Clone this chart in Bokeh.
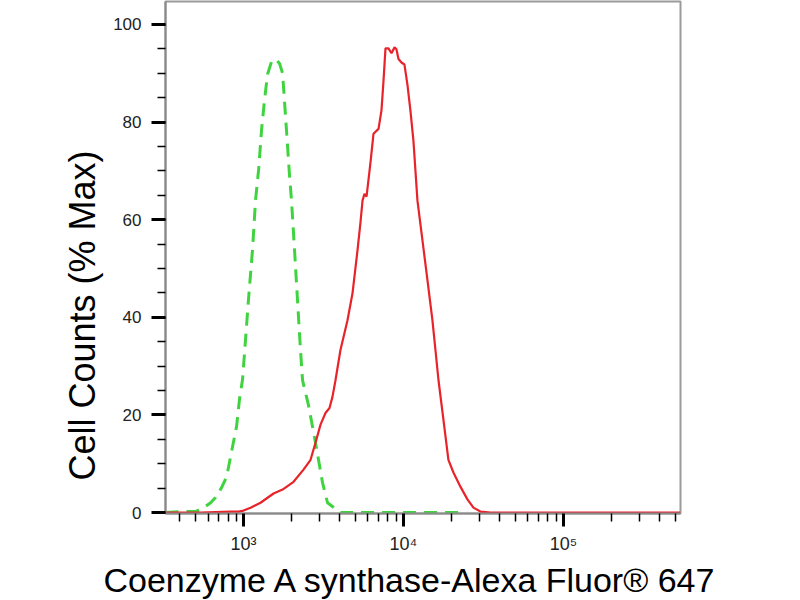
from bokeh.plotting import figure
from bokeh.models import Range1d, FixedTicker, SingleIntervalTicker, Title
from bokeh.embed import file_html
from bokeh.resources import INLINE

# ---- data (fluorescence intensity, % of max) ----
control_x = [325, 404, 501, 562, 622, 668, 729, 783, 841, 904, 944, 986, 1029, 1074,
             1138, 1189, 1242, 1296, 1352, 1413, 1496, 1585, 1679, 1754, 1803, 1884,
             1939, 1995, 2084, 2175, 2270, 2338, 2547, 2818, 3119, 3350, 4036, 5000,
             10000, 22000]
control_y = [0, 0.2, 0.2, 1.0, 2.0, 3.1, 5.1, 7.3, 12.4, 17.6, 23.3, 27.3, 35.5, 43.7,
             53.9, 64.1, 70.2, 78.4, 84.5, 89.8, 92.4, 92.9, 92.0, 90.0, 84.3, 75.1,
             69.0, 63.9, 53.7, 43.5, 33.3, 27.1, 22.0, 14.3, 6.1, 2.0, 0, 0,
             0, 0]

sample_x = [325, 538, 829, 931, 1000, 1106, 1277, 1540, 1754, 2054, 2371, 2624, 2818,
            3029, 3253, 3447, 3597, 3758, 4036, 4467, 4800, 5158, 5383, 5546, 5702,
            5875, 6223, 6494, 6982, 7286, 7499, 7719, 8054, 8414, 8790, 9036, 9311,
            9716, 10139, 10593, 11066, 11548, 12232, 13152, 14125, 15171, 15849,
            16558, 17783, 19099, 20535, 22699, 25119, 27384, 30269, 34995, 53830,
            538000]
sample_y = [0, 0, 0.2, 0.2, 0.4, 1.0, 2.0, 3.9, 4.7, 6.3, 8.8, 10.8, 14.3,
            18.0, 20.4, 21.4, 23.7, 27.1, 33.3, 39.4, 44.9, 53.7, 59.4, 63.9, 65.3,
            64.7, 71.8, 77.6, 78.6, 82.4, 88.4, 95.1, 95.1, 94.1, 95.3, 94.9, 92.9,
            92.2, 91.8, 87.6, 82.2, 76.1, 63.9, 55.7, 47.6, 39.4, 33.3,
            27.1, 19.0, 10.8, 8.2, 5.3, 2.7, 1.0, 0.2, 0, 0,
            0]

x_major = [1000, 10000, 100000]
x_minor = [400, 500, 600, 700, 800, 900,
           2000, 3000, 4000, 5000, 6000, 7000, 8000, 9000,
           20000, 30000, 40000, 50000, 60000, 70000, 80000, 90000,
           200000, 300000, 400000, 500000]
x_tick_labels = {1000: "10\u00b3", 10000: "10\u2074", 100000: "10\u2075"}

x_title = "Coenzyme A synthase-Alexa Fluor\u00ae 647"
y_title = "Cell Counts (% Max)"

FONT = "Liberation Sans"

p = figure(width=800, height=600, x_axis_type="log",
           x_range=Range1d(325, 540000), y_range=Range1d(-0.2, 104.7),
           output_backend="svg", toolbar_location=None,
           min_border_left=165, min_border_right=120,
           min_border_top=1, min_border_bottom=87)

p.background_fill_color = "white"
p.border_fill_color = "white"
p.outline_line_color = "#9a9a9a"
p.outline_line_width = 2
p.xgrid.visible = False
p.ygrid.visible = False

p.line(x=control_x, y=control_y, line_color="#3fd43f", line_width=3, line_dash="13 8")
p.line(x=sample_x, y=sample_y, line_color="#e8232a", line_width=2.2)

# x axis
xa = p.xaxis[0]
xa.ticker = FixedTicker(ticks=x_major, minor_ticks=x_minor)
xa.major_label_overrides = x_tick_labels
xa.axis_line_color = "#8a8a8a"
xa.axis_line_width = 2
xa.major_tick_line_color = "black"
xa.major_tick_line_width = 3
xa.major_tick_out = 13
xa.major_tick_in = 0
xa.minor_tick_line_color = "black"
xa.minor_tick_line_width = 1.5
xa.minor_tick_out = 8
xa.minor_tick_in = 0
xa.major_label_text_font = FONT
xa.major_label_text_font_size = "18px"
xa.major_label_text_color = "#222222"
xa.major_label_standoff = 7

# y axis
ya = p.yaxis[0]
ya.ticker = SingleIntervalTicker(interval=20, num_minor_ticks=4)
ya.axis_line_color = "#8a8a8a"
ya.axis_line_width = 2
ya.major_tick_line_color = "black"
ya.major_tick_line_width = 3
ya.major_tick_out = 14
ya.major_tick_in = 0
ya.minor_tick_line_color = "black"
ya.minor_tick_line_width = 1.5
ya.minor_tick_out = 8
ya.minor_tick_in = 0
ya.major_label_text_font = FONT
ya.major_label_text_font_size = "17px"
ya.major_label_text_color = "#222222"
ya.major_label_standoff = 10

# axis titles as side titles, so they can sit where the reference puts them
p.add_layout(Title(text=y_title, align="left", offset=33, standoff=15,
                   text_font=FONT, text_font_size="36px", text_font_style="normal",
                   text_color="black"), "left")
p.add_layout(Title(text=x_title, align="left", offset=-62, standoff=4,
                   text_font=FONT, text_font_size="34px", text_font_style="normal",
                   text_color="black"), "below")

open("out.html", "w").write(file_html(p, INLINE))
